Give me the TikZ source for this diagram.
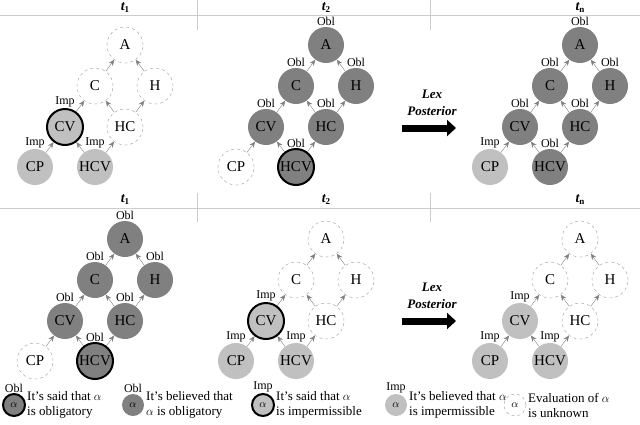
\documentclass[tikz,border=0pt]{standalone}
\usepackage{fontspec}
\setmainfont{Liberation Serif}
\usetikzlibrary{arrows.meta}
\definecolor{obl}{HTML}{808080}
\definecolor{imp}{HTML}{C0C0C0}
\newcommand{\tsub}[1]{{\bfseries\itshape t}\raisebox{-2pt}{\fontsize{9}{9}\selectfont\bfseries #1}}
\begin{document}
\begin{tikzpicture}[x=1pt,y=-1pt,
 nd/.style={circle,minimum size=36pt,inner sep=0pt,font=\fontsize{15}{15}\selectfont},
 unk/.style={nd,draw=gray!80,dashed,fill=white},
 ob/.style={nd,fill=obl},
 im/.style={nd,fill=imp},
 said/.style={draw=black,line width=2pt},
 lab/.style={font=\fontsize{12}{12}\selectfont,inner sep=0.5pt,anchor=south},
 ar/.style={draw=gray,-{Stealth[length=6pt,width=5pt]}},
 hdr/.style={font=\fontsize{14}{14}\selectfont,inner sep=0pt},
 sep/.style={draw=gray!40,line width=0.6pt}]
\useasboundingbox (0,0) rectangle (640,424);
\draw[sep] (0,15) -- (640,15);
\draw[sep] (0,208) -- (640,208);
\draw[sep] (197,0) -- (197,30);
\draw[sep] (430,0) -- (430,30);
\draw[sep] (197,193) -- (197,222);
\draw[sep] (430,193) -- (430,222);
\node[hdr] (h1) at (125,8) {\tsub{1}};
\node[hdr] (h2) at (326,8) {\tsub{2}};
\node[hdr] (h3) at (580,8) {\tsub{n}};
\node[hdr] (h4) at (125,200) {\tsub{1}};
\node[hdr] (h5) at (326,200) {\tsub{2}};
\node[hdr] (h6) at (580,200) {\tsub{n}};
\newcommand{\gr}[9]{%
 \begin{scope}[shift={(#1,#2)}]
 \node[#3] (A#9) at (125,45) {A};
 \node[#4] (C#9) at (95,86) {C};
 \node[#4] (H#9) at (155,86) {H};
 \node[#5] (CV#9) at (65,127) {CV};
 \node[#6] (HC#9) at (125,127) {HC};
 \node[#7] (CP#9) at (35,167) {CP};
 \node[#8] (HCV#9) at (95,167) {HCV};
 \draw[ar] (CP#9) -- (CV#9);
 \draw[ar] (HCV#9) -- (CV#9);
 \draw[ar] (HCV#9) -- (HC#9);
 \draw[ar] (CV#9) -- (C#9);
 \draw[ar] (HC#9) -- (C#9);
 \draw[ar] (HC#9) -- (H#9);
 \draw[ar] (C#9) -- (A#9);
 \draw[ar] (H#9) -- (A#9);
 \end{scope}}
\newcommand{\lb}[2]{\node[lab] at (#1.north) {#2};}
\gr{0}{0}{unk}{unk}{im,said}{unk}{im}{im}{a}
\lb{CVa}{Imp}\lb{CPa}{Imp}\lb{HCVa}{Imp}
\gr{201}{0}{ob}{ob}{ob}{ob}{unk}{ob,said}{b}
\lb{Ab}{Obl}\lb{Cb}{Obl}\lb{Hb}{Obl}\lb{CVb}{Obl}\lb{HCb}{Obl}\lb{HCVb}{Obl}
\gr{455}{0}{ob}{ob}{ob}{ob}{im}{ob}{c}
\lb{Ac}{Obl}\lb{Cc}{Obl}\lb{Hc}{Obl}\lb{CVc}{Obl}\lb{HCc}{Obl}\lb{HCVc}{Obl}\lb{CPc}{Imp}
\gr{0}{194}{ob}{ob}{ob}{ob}{unk}{ob,said}{d}
\lb{Ad}{Obl}\lb{Cd}{Obl}\lb{Hd}{Obl}\lb{CVd}{Obl}\lb{HCd}{Obl}\lb{HCVd}{Obl}
\gr{201}{194}{unk}{unk}{im,said}{unk}{im}{im}{e}
\lb{CVe}{Imp}\lb{CPe}{Imp}\lb{HCVe}{Imp}
\gr{455}{194}{unk}{unk}{im}{unk}{im}{im}{f}
\lb{CVf}{Imp}\lb{CPf}{Imp}\lb{HCVf}{Imp}
\foreach \y/\n in {128/p,321/q}{
 \node[font=\bfseries\itshape\fontsize{13}{13}\selectfont,inner sep=0pt] (lex\n) at (432,\y-34) {Lex};
 \node[font=\bfseries\itshape\fontsize{13}{13}\selectfont,inner sep=0pt] (post\n) at (432,\y-17) {Posterior};
 \coordinate (s\n) at (402,\y); \coordinate (e\n) at (456,\y);
 \draw[line width=7pt,-{Triangle[length=9pt,width=16pt]}] (s\n) -- (e\n);
}
\tikzset{lg/.style={circle,minimum size=22pt,inner sep=0pt,font=\fontsize{11}{11}\selectfont},
 lt/.style={align=left,anchor=west,inner sep=0pt,font=\fontsize{13}{15}\selectfont}}
\node[lg,fill=obl,said] (l1) at (14,405) {$\alpha$};
\node[lab] at (l1.north) {Obl};
\node[lt] (t1) at (27,405) {It's said that $\alpha$\\is obligatory};
\node[lg,fill=obl] (l2) at (133,405) {$\alpha$};
\node[lab] at (l2.north) {Obl};
\node[lt] (t2) at (146,405) {It's believed that\\$\alpha$ is obligatory};
\node[lg,fill=imp,said] (l3) at (263,405) {$\alpha$};
\node[lab] at (l3.north) {Imp};
\node[lt] (t3) at (276,405) {It's said that $\alpha$\\is impermissible};
\node[lg,fill=imp] (l4) at (396,405) {$\alpha$};
\node[lab] at (l4.north) {Imp};
\node[lt] (t4) at (409,405) {It's believed that $\alpha$\\is impermissible};
\node[lg,draw=gray!80,dashed] (l5) at (515,405) {$\alpha$};
\node[lt] (t5) at (528,405) {Evaluation of $\alpha$\\is unknown};
\end{tikzpicture}
\end{document}
